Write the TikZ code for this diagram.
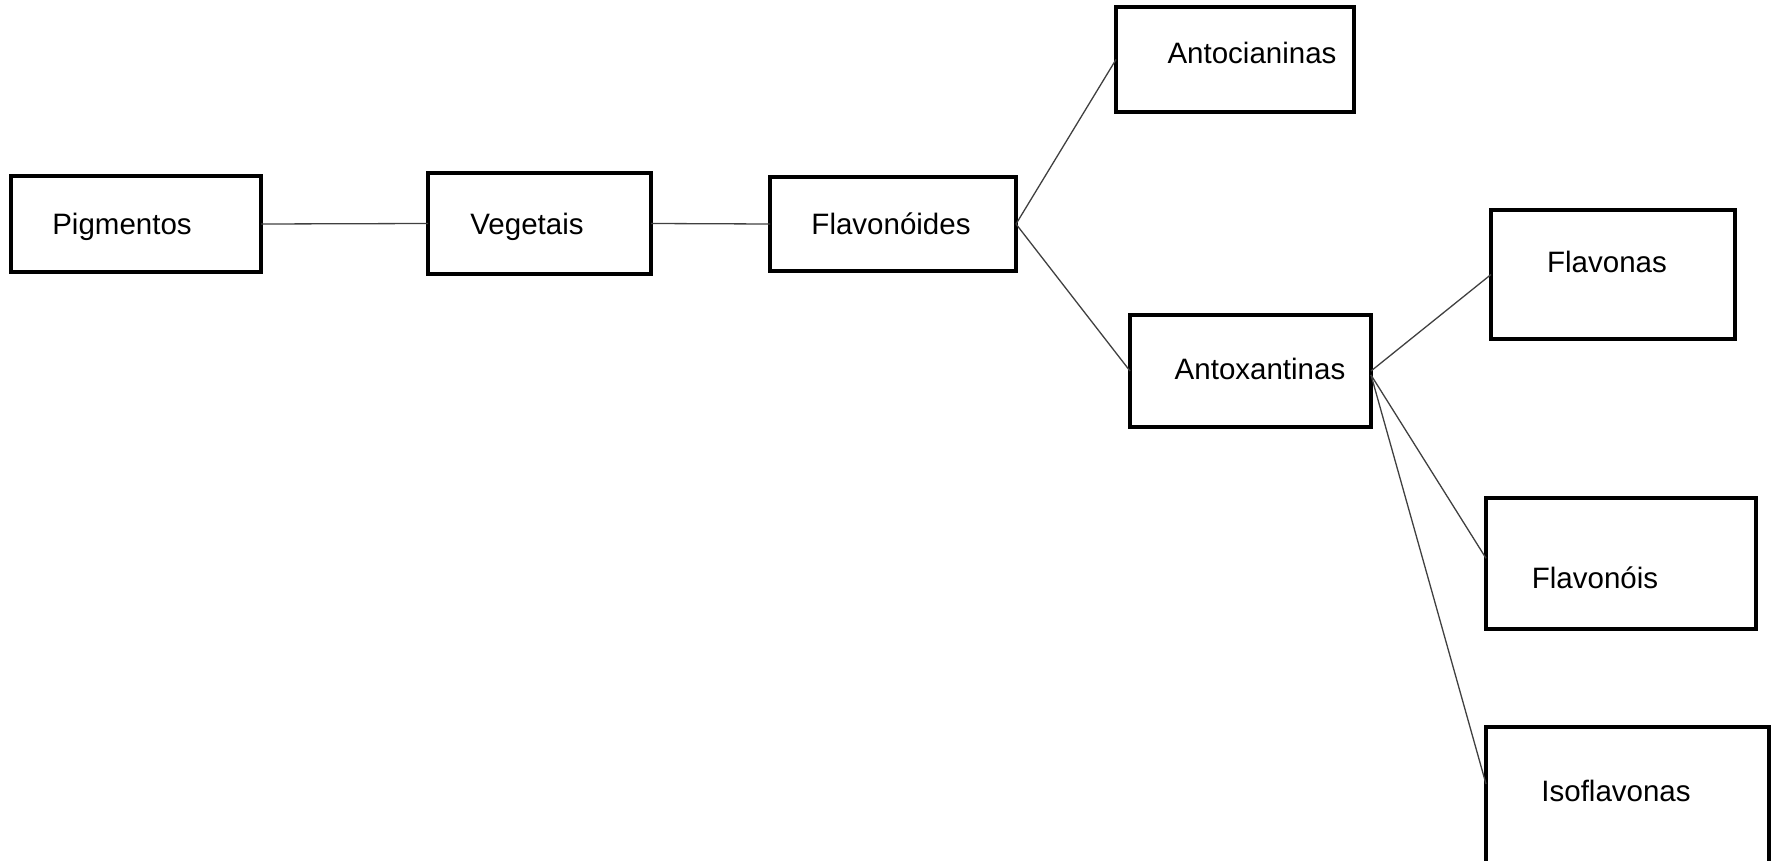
\documentclass[tikz,border=0pt]{standalone}
\usepackage{fontspec}
\setmainfont{Liberation Sans}
\usetikzlibrary{calc}
\begin{document}
\begin{tikzpicture}[x=1pt,y=-1pt,
  box/.style={draw=black,line width=3.6pt,inner sep=0pt,outer sep=0pt},
  lbl/.style={anchor=base,inner sep=0pt,font=\fontsize{29.5}{35}\selectfont},
  link/.style={draw=black!75,line width=1.3pt}]
\useasboundingbox (0,0) rectangle (1776,861);
% boxes
\node[box,minimum width=250pt,minimum height=96pt] (pig) at (136,224) {};
\node[box,minimum width=223pt,minimum height=101pt] (veg) at (539.5,223.5) {};
\node[box,minimum width=246pt,minimum height=94pt] (flav) at (893,224) {};
\node[box,minimum width=238pt,minimum height=105pt] (anto) at (1235,59.5) {};
\node[box,minimum width=241pt,minimum height=112pt] (antox) at (1250.5,371) {};
\node[box,minimum width=244pt,minimum height=129pt] (fnas) at (1613,274.5) {};
\node[box,minimum width=270pt,minimum height=131pt] (fnois) at (1621,563.5) {};
\node[box,minimum width=283pt,minimum height=139pt] (iso) at (1627.5,796.5) {};
% labels
\node[lbl] (tpig) at (122,234.6) {Pigmentos};
\node[lbl] (tveg) at (527,234.6) {Vegetais};
\node[lbl] (tflav) at (891,234.6) {Flavonóides};
\node[lbl] (tanto) at (1252,63.6) {Antocianinas};
\node[lbl] (tantox) at (1260,379.6) {Antoxantinas};
\node[lbl] (tfnas) at (1607,272.6) {Flavonas};
\node[lbl] (tfnois) at (1595,588.6) {Flavonóis};
\node[lbl] (tiso) at (1616,801.6) {Isoflavonas};
% connectors
\draw[link] (pig.east) -- (veg.west);
\draw[link] (veg.east) -- (flav.west);
\draw[link] (flav.east) -- (anto.west);
\draw[link] (flav.east) -- (antox.west);
\draw[link] (antox.east) -- (fnas.west);
\draw[link] ($(antox.east)+(0,4)$) -- ($(fnois.north west)!0.46!(fnois.south west)$);
\draw[link] ($(antox.east)+(0,4)$) -- ($(iso.north west)!0.41!(iso.south west)$);
\end{tikzpicture}
\end{document}
